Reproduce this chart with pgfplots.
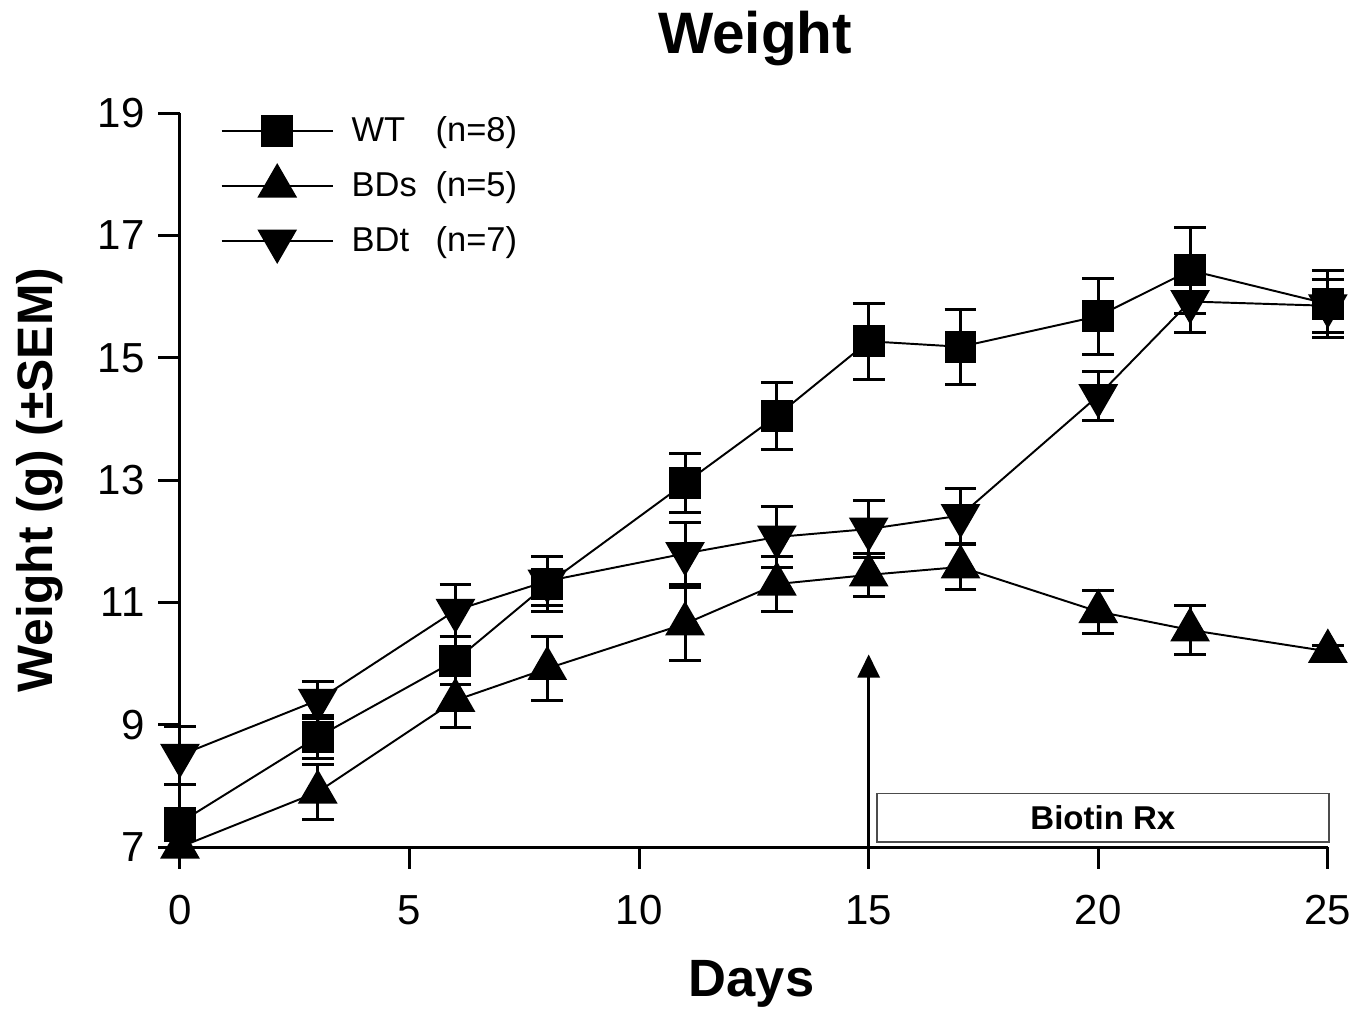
\documentclass[border=0pt]{standalone}
\usepackage{fontspec}
\setmainfont{Liberation Sans}
\usepackage{pgfplots}
\pgfplotsset{compat=1.18}
\usetikzlibrary{arrows.meta}

\begin{document}
\begin{tikzpicture}
\begin{axis}[
  scale only axis, width=382.7pt, height=244.7pt,
  xmin=0, xmax=25, ymin=7, ymax=19,
  axis lines=left, axis line style={line width=1pt, -},
  xtick={0,5,...,25}, ytick={7,9,...,19},
  tick align=outside, major tick length=7.3pt,
  tick style={line width=1pt, black},
  /pgf/number format/assume math mode=true,
  tick label style={font=\fontsize{14}{16}\selectfont},
  xticklabel style={yshift=-5.3pt},
  yticklabel style={xshift=-1pt},
  xlabel={Days}, ylabel={Weight (g) (±SEM)},
  xlabel style={font=\fontsize{17.5}{20}\selectfont\bfseries, at={(axis description cs:0.498,-0.186)}, anchor=center},
  ylabel style={font=\fontsize{16.6}{19}\selectfont\bfseries, at={(axis description cs:-0.122,0.5)}, anchor=center},
  title={Weight},
  title style={font=\fontsize{19.5}{22}\selectfont\bfseries, at={(axis description cs:0.501,1.057)}, anchor=base},
  clip=false,
  legend style={draw=none, fill=none, at={(axis description cs:0.035,1.005)}, anchor=north west,
    font=\fontsize{11.5}{13}\selectfont, row sep=4.5pt, inner sep=0pt},
  legend cell align=left,
  legend image code/.code={
    \draw[#1, mark=none] (0pt,0pt) -- (37pt,0pt);
    \draw[#1, only marks] plot coordinates {(18.5pt,0pt)};
  },
  error bars/error bar style={line width=1pt, black},
  error bars/error mark options={rotate=90, mark size=5.3pt, line width=1pt, black},
]
\addplot[black, line width=0.65pt, mark=square*, mark size=5pt,
  error bars/.cd, y dir=both, y explicit] coordinates {
  (0,7.4) +- (0,0.15)
  (3,8.8) +- (0,0.35)
  (6,10.05) +- (0,0.4)
  (8,11.3) +- (0,0.45)
  (11,12.95) +- (0,0.48)
  (13,14.05) +- (0,0.55)
  (15,15.27) +- (0,0.62)
  (17,15.18) +- (0,0.61)
  (20,15.68) +- (0,0.62)
  (22,16.43) +- (0,0.7)
  (25,15.88) +- (0,0.55)
};
\addlegendentry{\hspace{4pt}\makebox[28pt][l]{WT}(n=8)}
\addplot[black, line width=0.65pt, mark=triangle*, mark size=7pt,
  error bars/.cd, y dir=both, y explicit] coordinates {
  (0,7.0) +- (0,0.1)
  (3,7.9) +- (0,0.45)
  (6,9.4) +- (0,0.45)
  (8,9.92) +- (0,0.53)
  (11,10.65) +- (0,0.6)
  (13,11.3) +- (0,0.45)
  (15,11.45) +- (0,0.35)
  (17,11.58) +- (0,0.37)
  (20,10.85) +- (0,0.35)
  (22,10.55) +- (0,0.4)
  (25,10.2) +- (0,0.1)
};
\addlegendentry{\hspace{4pt}\makebox[28pt][l]{BDs}(n=5)}
\addplot[black, line width=0.65pt, mark=triangle*, mark size=7pt, mark options={rotate=180},
  error bars/.cd, y dir=both, y explicit] coordinates {
  (0,8.5) +- (0,0.47)
  (3,9.4) +- (0,0.3)
  (6,10.87) +- (0,0.42)
  (8,11.35) +- (0,0.4)
  (11,11.8) +- (0,0.5)
  (13,12.07) +- (0,0.5)
  (15,12.2) +- (0,0.47)
  (17,12.42) +- (0,0.45)
  (20,14.38) +- (0,0.4)
  (22,15.92) +- (0,0.5)
  (25,15.85) +- (0,0.43)
};
\addlegendentry{\hspace{4pt}\makebox[28pt][l]{BDt}(n=7)}
\draw[line width=1pt, -{Triangle[width=7.3pt,length=7.7pt]}] (axis cs:15,7) -- (axis cs:15,10.15);
\draw[gray!60!black, line width=0.5pt, fill=white] (axis cs:15.18,7.08) rectangle (axis cs:25.03,7.88);
\node[font=\fontsize{11}{13}\selectfont\bfseries] at (axis cs:20.1,7.48) {Biotin Rx};
\coordinate (bbA) at (axis cs:-3.92,4.35);
\coordinate (bbB) at (axis cs:25.81,20.85);
\end{axis}
\pgfresetboundingbox
\path[use as bounding box] (bbA) rectangle (bbB);
\end{tikzpicture}
\end{document}
